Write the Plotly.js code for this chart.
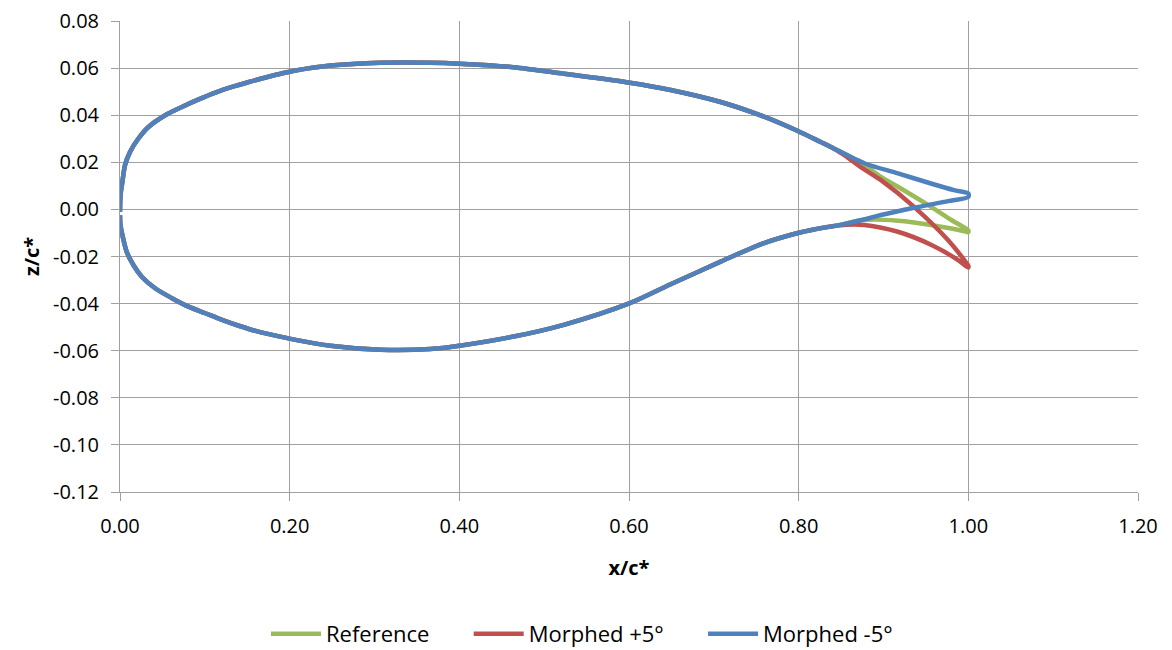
<!DOCTYPE html>
<html>
<head>
<meta charset="utf-8">
<script src="https://cdn.plot.ly/plotly-3.0.1.min.js"></script>
<style>html,body{margin:0;padding:0;background:#fff;}#chart{width:1172px;height:650px;}</style>
</head>
<body>
<div id="chart"></div>
<script>
// Shared leading-edge geometry (upper surface, LE -> TE)
const commonUpperX = [0, 0.0003, 0.0012, 0.0028, 0.0059, 0.0118, 0.0217, 0.0335, 0.0533, 0.073, 0.0927, 0.1124, 0.1321, 0.1519, 0.1716, 0.1913, 0.207, 0.248, 0.307, 0.366, 0.400, 0.464, 0.523, 0.601, 0.649, 0.708, 0.756, 0.799, 0.826, 0.838];
const commonUpperZ = [-0.001, 0.004, 0.008, 0.0117, 0.0188, 0.0244, 0.0301, 0.035, 0.040, 0.0435, 0.0467, 0.0496, 0.052, 0.0541, 0.056, 0.0578, 0.059, 0.0611, 0.0623, 0.0623, 0.0619, 0.0604, 0.0576, 0.0538, 0.0507, 0.0456, 0.0398, 0.0333, 0.0286, 0.0265];
// Shared lower surface (LE -> TE)
const commonLowerX = [0, 0.0003, 0.0012, 0.0028, 0.0079, 0.0158, 0.0257, 0.0414, 0.0612, 0.0808, 0.1006, 0.1203, 0.14, 0.1598, 0.1795, 0.207, 0.248, 0.307, 0.366, 0.400, 0.464, 0.523, 0.601, 0.649, 0.708, 0.756, 0.799, 0.818, 0.846];
const commonLowerZ = [-0.0025, -0.0058, -0.0082, -0.0109, -0.018, -0.0236, -0.0286, -0.0335, -0.0377, -0.0413, -0.0441, -0.0469, -0.0494, -0.0516, -0.0533, -0.0554, -0.0579, -0.0596, -0.0593, -0.0579, -0.054, -0.049, -0.0398, -0.0318, -0.0222, -0.0147, -0.0100, -0.0085, -0.0068];

// Trailing-edge portions, each from the shared part to x = 1
const refUpperX = [0.870, 0.897, 0.917, 0.956, 0.980, 1.000];
const refUpperZ = [0.0205, 0.0138, 0.0096, 0.0011, -0.0045, -0.0089];
const refLowerX = [0.877, 0.917, 0.956, 0.998, 1.000];
const refLowerZ = [-0.0045, -0.0048, -0.0066, -0.0095, -0.0097];

const plusUpperX = [0.852, 0.875, 0.897, 0.936, 0.976, 0.998, 1.000];
const plusUpperZ = [0.0235, 0.0175, 0.0124, 0.0011, -0.0130, -0.0229, -0.0240];
const plusLowerX = [0.877, 0.917, 0.956, 0.988, 1.000];
const plusLowerZ = [-0.0066, -0.0095, -0.0150, -0.0215, -0.0247];

const minusUpperX = [0.878, 0.917, 0.956, 0.983, 1.000];
const minusUpperZ = [0.0195, 0.0153, 0.0110, 0.0082, 0.0068];
const minusLowerX = [0.878, 0.897, 0.936, 0.976, 1.000];
const minusLowerZ = [-0.0042, -0.0024, 0.0007, 0.0035, 0.0053];

const seriesNames = ['Reference', 'Morphed +5°', 'Morphed -5°'];
const seriesColors = ['#9BBB59', '#C0504D', '#4F81BD'];

const xTickVals = [0, 0.2, 0.4, 0.6, 0.8, 1.0, 1.2];
const yTickVals = [-0.12, -0.10, -0.08, -0.06, -0.04, -0.02, 0, 0.02, 0.04, 0.06, 0.08];

function loop(ux, uz, lx, lz) {
  const x = commonUpperX.concat(ux, lx.slice().reverse(), commonLowerX.slice().reverse());
  const z = commonUpperZ.concat(uz, lz.slice().reverse(), commonLowerZ.slice().reverse());
  return {x: x, y: z};
}

const outlines = [
  loop(refUpperX, refUpperZ, refLowerX, refLowerZ),
  loop(plusUpperX, plusUpperZ, plusLowerX, plusLowerZ),
  loop(minusUpperX, minusUpperZ, minusLowerX, minusLowerZ)
];

// invisible trailing padding widens the gap between legend entries
const legendPad = '\u00a0'.repeat(6);

const traces = outlines.map((s, i) => ({
  type: 'scatter', mode: 'lines',
  x: s.x, y: s.y,
  name: seriesNames[i] + (i < seriesNames.length - 1 ? legendPad : ''),
  line: {color: seriesColors[i], width: 4.5, shape: 'spline', smoothing: 0.8},
  hoverinfo: 'x+y+name'
}));

const FONT = 'Open Sans, Liberation Sans, sans-serif';
const gridC = '#A0A0A0';

const layout = {
  width: 1172, height: 650,
  paper_bgcolor: '#ffffff', plot_bgcolor: '#ffffff',
  margin: {l: 120, r: 34, t: 21, b: 158, autoexpand: false},
  font: {family: FONT, size: 18, color: '#000'},
  showlegend: true,
  legend: {
    orientation: 'h', xref: 'paper', x: 0.4538, xanchor: 'center',
    yref: 'container', y: 0.0246, yanchor: 'middle',
    font: {family: FONT, size: 22, color: '#000'},
    itemwidth: 50,
    bgcolor: 'rgba(0,0,0,0)'
  },
  xaxis: {
    range: [0, 1.2], tickvals: xTickVals, ticktext: xTickVals.map(v => v.toFixed(2)),
    showgrid: true, gridcolor: gridC, gridwidth: 1, zeroline: false,
    showline: true, linecolor: gridC, linewidth: 1,
    ticks: 'outside', ticklen: 8, tickcolor: gridC, ticklabelstandoff: 8,
    tickfont: {family: FONT, size: 20, color: '#000'},
    title: {text: '<b>x/c*</b>', font: {family: FONT, size: 20, color: '#000'}, standoff: 22},
    automargin: false, fixedrange: true
  },
  yaxis: {
    range: [-0.12, 0.08], tickvals: yTickVals, ticktext: yTickVals.map(v => v.toFixed(2)),
    showgrid: true, gridcolor: gridC, gridwidth: 1, zeroline: false,
    showline: true, linecolor: gridC, linewidth: 1,
    ticks: 'outside', ticklen: 8, tickcolor: gridC, ticklabelstandoff: 8,
    tickfont: {family: FONT, size: 20, color: '#000'},
    title: {text: '<b>z/c*</b>', font: {family: FONT, size: 20, color: '#000'}, standoff: 8},
    automargin: false, fixedrange: true
  }
};

Plotly.newPlot('chart', traces, layout, {displayModeBar: false, staticPlot: true});
</script>
</body>
</html>
